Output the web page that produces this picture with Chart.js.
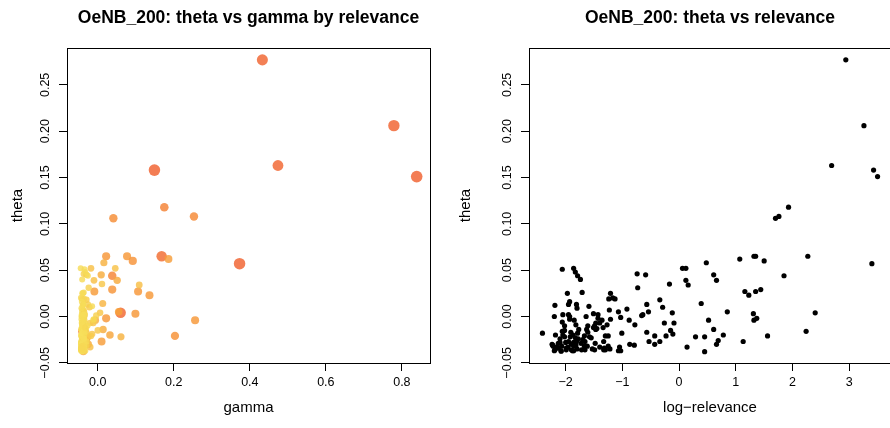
<!DOCTYPE html>
<html>
<head>
<meta charset="utf-8">
<script src="https://cdn.jsdelivr.net/npm/chart.js@4/dist/chart.umd.min.js"></script>
<style>
html, body { margin: 0; padding: 0; background: #fff; overflow: hidden; }
#leftWrap { position: absolute; left: 0; top: 0; width: 445px; height: 428px; }
#rightWrap { position: absolute; left: 445px; top: 0; width: 460px; height: 428px; }
</style>
</head>
<body>
<div id="leftWrap"><canvas id="leftChart" width="445" height="428"></canvas></div>
<div id="rightWrap"><canvas id="rightChart" width="460" height="428"></canvas></div>
<script>
// one entry per document: log-relevance, theta, gamma (same order in all three)
var logRelevance = [
    2.94, 3.26, 2.69, 3.43, 3.50, 1.70, 1.76, 1.93, 2.27, 3.40,
    2.40, 2.24, 1.85, 1.56, 1.50, 1.44, 1.35, 1.32, 1.35, 1.23,
    1.16, 1.07, 1.31, 1.37, 1.32, 1.13, 0.85, 0.78, 0.69, 0.66,
    0.61, 0.52, 0.45, 0.45, 0.29, 0.39, 0.48, 0.61, 0.66, 0.06,
    0.12, 0.12, 0.16, 0.14,
    -0.17, -0.12, -0.09, -0.15, -0.11, -0.23, -0.26, -0.29, -0.34, -0.34,
    -0.43, -0.43, -0.53, -0.57, -0.57, -0.54, -0.59, -0.74, -0.73, -0.66,
    -0.64, -0.78, -0.79, -0.87, -0.88, -0.92, -1.01, -1.03, -1.07, -1.05,
    -1.07, -1.03, -1.13, -1.17, -1.21, -1.24, -1.23, -1.21, -1.27, -1.30,
    -1.25, -1.33, -1.30, -1.32, -1.36, -1.40, -1.43, -1.47, -1.47, -1.43,
    -1.51, -1.48, -1.55, -1.51, -1.49, -1.53, -1.59, -1.64, -1.61, -1.58,
    -1.63, -1.67, -1.67, -1.70, -1.71, -1.72, -1.73, -1.77, -1.78, -1.80,
    -1.79, -1.81, -1.83, -1.85, -1.86, -1.86, -1.87, -1.90, -1.90, -1.92,
    -1.95, -1.96, -1.99, -2.00, -2.02, -2.05, -2.02, -2.06, -2.07, -2.08,
    -2.10, -2.12, -2.13, -2.16, -2.18, -2.20, -2.23, -2.24, -2.41, -2.19,
    -2.20, -2.06, -2.05, -2.06, -2.02, -1.97, -1.95, -1.93, -1.95, -1.93,
    -1.93, -1.86, -1.83, -1.79, -1.74, -1.81, -1.80, -1.85, -1.82,
    -2.22, -2.19, -2.14, -2.08, -1.99, -1.88, -1.82, -1.66, -1.62, -1.49,
    -1.40, -1.33, -1.25, -1.22, -1.45, -1.61, -1.91, -1.66, -1.34, -2.10
];
var theta = [
    0.277, 0.206, 0.163, 0.158, 0.151, 0.106, 0.108, 0.118, 0.065, 0.057,
    0.004, -0.016, 0.044, -0.021, 0.060, 0.029, 0.065, 0.065, 0.027, 0.023,
    0.027, 0.062, 0.003, -0.002, -0.004, -0.027, 0.005, -0.020, -0.026, -0.030,
    -0.014, -0.004, -0.022, -0.038, -0.022, 0.014, 0.058, 0.045, 0.039, 0.052,
    0.052, 0.039, 0.034, -0.033,
    0.035, 0.004, -0.007, -0.015, -0.019, -0.021, -0.007, 0.010, 0.018, -0.027,
    -0.021, -0.030, -0.027, -0.017, 0.013, 0.005, 0.045, 0.046, 0.031, 0.001,
    0.002, -0.009, -0.031, -0.030, -0.004, 0.008, -0.018, -0.001, 0.005, -0.033,
    -0.037, -0.037, 0.019, 0.020, 0.025, 0.019, 0.007, -0.003, -0.009, -0.021,
    -0.021, -0.027, -0.036, -0.034, -0.004, -0.007, -0.002, -0.007, -0.014, 0.002,
    0.003, -0.029, -0.023, -0.012, -0.010, -0.035, 0.011, 0.000, -0.017, -0.022,
    -0.014, -0.021, -0.032, -0.025, 0.026, -0.036, -0.029, -0.014, -0.024, -0.035,
    -0.018, -0.027, -0.023, -0.032, -0.037, -0.028, -0.020, -0.036, -0.030, -0.022,
    -0.027, -0.033, -0.036, -0.028, -0.022, -0.020, -0.015, -0.016, -0.032, -0.0375,
    -0.028, -0.034, -0.029, -0.033, -0.020, -0.037, -0.031, -0.030, -0.018, 0.012,
    0.000, 0.051, 0.002, -0.006, -0.010, 0.025, 0.013, 0.016, 0.002, 0.000,
    -0.003, 0.052, 0.048, 0.044, 0.040, 0.013, 0.009, -0.004, -0.009,
    -0.032, -0.036, -0.034, -0.037, -0.034, -0.037, -0.031, -0.036, -0.032, -0.036,
    -0.033, -0.036, -0.032, -0.035, -0.013, -0.010, -0.017, -0.027, -0.012, -0.024
];
var gamma = [
    0.433, 0.779, 0.474, 0.149, 0.839, 0.041, 0.253, 0.175, 0.168, 0.373,
    0.060, -0.038, 0.038, 0.203, 0.092, 0.038, 0.022, 0.077, 0.106, 0.136,
    -0.009, 0.186, 0.099, 0.022, 0.256, 0.010, 0.055, 0.032, -0.030, -0.025,
    0.014, -0.006, 0.061, -0.038, -0.025, 0.013, 0.016, 0.009, 0.051, 0.046,
    -0.018, -0.010, 0.109, -0.020,
    0.011, 0.006, -0.012, 0.000, -0.015, -0.028, -0.020, -0.022, -0.030, -0.035,
    -0.018, -0.032, -0.040, -0.030, -0.026, -0.036, -0.030, -0.037, -0.024, -0.004,
    -0.034, -0.038, -0.030, -0.042, -0.011, -0.040, -0.034, -0.036, -0.041, -0.035,
    -0.040, -0.033, -0.036, -0.044, -0.039, -0.041, -0.037, -0.011, -0.040, -0.036,
    -0.042, -0.038, -0.041, -0.036, -0.035, -0.042, -0.038, -0.033, -0.039, -0.042,
    -0.036, -0.044, -0.039, -0.042, -0.037, -0.040, -0.015, -0.040, -0.037, -0.043,
    -0.041, -0.038, -0.044, -0.040, -0.037, -0.042, -0.036, -0.044, -0.041, -0.038,
    -0.039, -0.044, -0.037, -0.041, -0.039, -0.043, -0.040, -0.044, -0.038, -0.042,
    -0.040, -0.037, -0.043, -0.041, -0.039, -0.044, -0.042, -0.038, -0.040, -0.042,
    -0.037, -0.044, -0.040, -0.038, -0.043, -0.041, -0.039, -0.044, -0.042, -0.040,
    -0.043, -0.035, -0.039, -0.042, -0.040, -0.041, -0.038, -0.042, -0.036, -0.040,
    -0.043, -0.045, -0.033, -0.026, -0.041, -0.039, -0.043, -0.038, -0.041,
    -0.040, -0.043, -0.037, -0.041, -0.039, -0.044, -0.036, -0.042, -0.038, -0.041,
    -0.043, -0.037, -0.040, -0.044, -0.031, -0.027, -0.034, -0.029, -0.033, -0.036
];

var gammaTicks = [0, 0.2, 0.4, 0.6, 0.8];
var logRelTicks = [-2, -1, 0, 1, 2, 3];
var thetaTicks = [-0.05, 0, 0.05, 0.10, 0.15, 0.20, 0.25];

// plot ranges (R style, 4% beyond the data)
var gammaRange = [-0.081, 0.874];
var logRelRange = [-2.647, 3.737];
var thetaRange = [-0.0502, 0.2898];

// relevance -> colour and size of the left-hand points
var colourStops = [
    [-2.4, [247, 224, 92]],
    [-1.0, [247, 214, 82]],
    [0.0, [248, 196, 72]],
    [0.8, [247, 164, 58]],
    [1.6, [246, 144, 54]],
    [2.1, [243, 122, 50]],
    [2.3, [241, 104, 48]],
    [3.5, [240, 96, 46]]
];
var radiusStops = [[-2.4, 2.9], [0, 3.3], [1, 3.9], [1.95, 4.3], [2.2, 5.2], [3.5, 5.8]];

function lerpStops(stops, v) {
    if (v <= stops[0][0]) return stops[0][1];
    for (let i = 1; i < stops.length; i++) {
        if (v <= stops[i][0]) {
            let a = stops[i - 1], b = stops[i];
            let t = (v - a[0]) / (b[0] - a[0]);
            if (Array.isArray(a[1])) {
                return a[1].map((c, k) => c + (b[1][k] - c) * t);
            }
            return a[1] + (b[1] - a[1]) * t;
        }
    }
    return stops[stops.length - 1][1];
}

function relColour(v) {
    let c = lerpStops(colourStops, v);
    return `rgba(${Math.round(c[0])},${Math.round(c[1])},${Math.round(c[2])},0.82)`;
}

function minusSign(s) {
    return s.replace('-', '\u2212');
}

Chart.defaults.font.family = '"Liberation Sans", Arial, Helvetica, sans-serif';
Chart.defaults.color = '#000';

// R-like box round the plot region
const boxPlugin = {
    id: 'box',
    afterDraw(chart) {
        const a = chart.chartArea;
        const ctx = chart.ctx;
        ctx.save();
        ctx.strokeStyle = '#000';
        ctx.lineWidth = 1;
        ctx.strokeRect(Math.round(a.left) + 0.5, Math.round(a.top) + 0.5,
            Math.round(a.right - a.left), Math.round(a.bottom - a.top));
        ctx.restore();
    }
};

function makeOptions(cfg) {
    return {
        responsive: false,
        animation: false,
        devicePixelRatio: 1,
        layout: { padding: { left: 0, right: cfg.padRight, top: 0, bottom: 0 } },
        plugins: {
            legend: { display: false },
            tooltip: { enabled: false },
            title: {
                display: true,
                text: cfg.title,
                fullSize: false,
                color: '#000',
                font: { size: 17.5, weight: 'bold' },
                padding: { top: 7.5, bottom: 19.5 }
            }
        },
        scales: {
            x: {
                type: 'linear',
                min: cfg.xRange[0],
                max: cfg.xRange[1],
                afterBuildTicks: (s) => { s.ticks = cfg.xTicks.map(v => ({ value: v })); },
                afterFit: (s) => { s.height = 65; },
                grid: { display: true, drawOnChartArea: false, drawTicks: true, tickLength: 8, color: '#000', tickColor: '#000' },
                border: { display: false },
                ticks: {
                    autoSkip: false, maxRotation: 0, minRotation: 0, padding: 4,
                    font: { size: 12.5 }, color: '#000',
                    callback: cfg.xFmt
                },
                title: { display: true, text: cfg.xTitle, font: { size: 15 }, color: '#000', padding: { top: 0, bottom: 11 } }
            },
            y: {
                type: 'linear',
                min: thetaRange[0],
                max: thetaRange[1],
                afterBuildTicks: (s) => { s.ticks = thetaTicks.map(v => ({ value: v })); },
                afterFit: (s) => { s.width = cfg.yWidth; },
                grid: { display: true, drawOnChartArea: false, drawTicks: true, tickLength: 8, color: '#000', tickColor: '#000' },
                border: { display: false },
                ticks: {
                    autoSkip: false, minRotation: 90, maxRotation: 90, crossAlign: 'center', padding: cfg.yTickPad,
                    font: { size: 12.5 }, color: '#000',
                    callback: (v) => minusSign(Number(v).toFixed(2))
                },
                title: { display: true, text: 'theta', font: { size: 15 }, color: '#000', padding: { top: cfg.yTitlePad, bottom: 0 } }
            }
        }
    };
}

var leftPoints = gamma.map((g, i) => ({ x: g, y: theta[i] }));
var rightPoints = logRelevance.map((r, i) => ({ x: r, y: theta[i] }));

new Chart(document.getElementById('leftChart'), {
    type: 'scatter',
    data: {
        datasets: [{
            data: leftPoints,
            pointBackgroundColor: logRelevance.map(relColour),
            pointRadius: logRelevance.map(v => lerpStops(radiusStops, v)),
            pointBorderWidth: 0
        }]
    },
    options: makeOptions({
        title: 'OeNB_200: theta vs gamma by relevance',
        xTitle: 'gamma',
        xRange: gammaRange,
        xTicks: gammaTicks,
        xFmt: (v) => minusSign(Number(v).toFixed(1)),
        yWidth: 67,
        yTickPad: -2,
        yTitlePad: 8.5,
        padRight: 15
    }),
    plugins: [boxPlugin]
});

new Chart(document.getElementById('rightChart'), {
    type: 'scatter',
    data: {
        datasets: [{
            data: rightPoints,
            pointBackgroundColor: '#000',
            pointRadius: 2.6,
            pointBorderWidth: 0
        }]
    },
    options: makeOptions({
        title: 'OeNB_200: theta vs relevance',
        xTitle: 'log\u2212relevance',
        xRange: logRelRange,
        xTicks: logRelTicks,
        xFmt: (v) => minusSign(String(v)),
        yWidth: 84,
        yTickPad: -2,
        yTitlePad: 11.5,
        padRight: 14
    }),
    plugins: [boxPlugin]
});
</script>
</body>
</html>
